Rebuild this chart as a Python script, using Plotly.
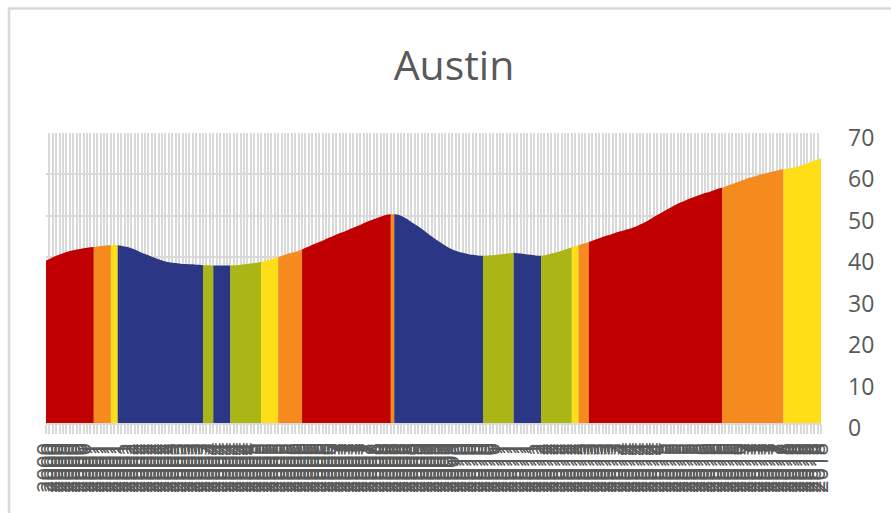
import plotly.graph_objects as go

# monthly values, Jan 2000 .. Dec 2018 (one row per year)
values = [
    39.2, 39.6, 40.0, 40.4, 40.7, 41.0, 41.3, 41.5, 41.7, 41.9, 42.0, 42.2,  # 2000
    42.3, 42.4, 42.5, 42.6, 42.7, 42.8, 42.9, 42.9, 43.0, 42.9, 42.8, 42.6,  # 2001
    42.5, 42.2, 41.9, 41.5, 41.1, 40.8, 40.5, 40.1, 39.8, 39.5, 39.2, 39.0,  # 2002
    38.8, 38.7, 38.6, 38.5, 38.4, 38.4, 38.3, 38.3, 38.2, 38.2, 38.1, 38.1,  # 2003
    38.1, 38.0, 38.0, 38.0, 38.0, 38.0, 38.0, 38.1, 38.1, 38.2, 38.3, 38.4,  # 2004
    38.5, 38.6, 38.7, 38.9, 39.1, 39.3, 39.5, 39.8, 40.0, 40.3, 40.6, 40.9,  # 2005
    41.1, 41.3, 41.6, 41.9, 42.3, 42.6, 43.0, 43.3, 43.7, 44.0, 44.4, 44.8,  # 2006
    45.1, 45.5, 45.8, 46.1, 46.4, 46.8, 47.1, 47.5, 47.8, 48.2, 48.6, 48.9,  # 2007
    49.2, 49.5, 49.8, 50.1, 50.3, 50.4, 50.4, 50.3, 50.0, 49.6, 49.1, 48.5,  # 2008
    48.0, 47.5, 46.9, 46.3, 45.6, 45.0, 44.4, 43.9, 43.3, 42.8, 42.3, 41.9,  # 2009
    41.6, 41.3, 41.1, 40.9, 40.7, 40.6, 40.5, 40.4, 40.4, 40.4, 40.5, 40.5,  # 2010
    40.6, 40.7, 40.8, 40.9, 41.0, 41.1, 41.0, 40.9, 40.8, 40.7, 40.6, 40.5,  # 2011
    40.4, 40.4, 40.5, 40.7, 40.9, 41.1, 41.3, 41.6, 41.8, 42.1, 42.4, 42.7,  # 2012
    42.9, 43.2, 43.4, 43.7, 44.0, 44.3, 44.6, 44.9, 45.2, 45.4, 45.7, 46.0,  # 2013
    46.2, 46.4, 46.7, 46.9, 47.2, 47.5, 47.9, 48.3, 48.7, 49.2, 49.7, 50.2,  # 2014
    50.6, 51.1, 51.6, 52.0, 52.5, 52.9, 53.3, 53.6, 54.0, 54.3, 54.6, 54.9,  # 2015
    55.2, 55.5, 55.7, 56.0, 56.3, 56.6, 56.8, 57.1, 57.4, 57.7, 58.0, 58.3,  # 2016
    58.6, 58.9, 59.2, 59.4, 59.6, 59.9, 60.1, 60.3, 60.5, 60.7, 60.9, 61.1,  # 2017
    61.3, 61.4, 61.5, 61.7, 61.9, 62.1, 62.4, 62.7, 63.0, 63.3, 63.6, 63.9,  # 2018
]
years = list(range(2000, 2019))
tick_labels = [str(y) for y in years for _ in range(12)]

# colour runs along the series: level and number of months in each run
run_levels = ["red", "orange", "yellow", "blue", "green", "blue", "green", "yellow",
              "orange", "red", "orange", "blue", "green", "blue", "green", "yellow",
              "orange", "red", "orange", "yellow"]
run_lengths = [14, 5, 2, 25, 3, 5, 9, 5, 7, 26, 1, 26, 9, 8, 9, 2, 3, 39, 18, 12]

COLORS = {
    "red": "#C00000",
    "orange": "#F58B1F",
    "yellow": "#FFDE17",
    "blue": "#2B3784",
    "green": "#A9B615",
}
TEXT = "#595959"
GRID = "#D9D9D9"
FONT = "Open Sans, sans-serif"

n = len(values)
idx = list(range(n))

fig = go.Figure()
start = 0
for level, length in zip(run_levels, run_lengths):
    end = min(start + length, n - 1)
    fig.add_trace(go.Scatter(
        x=idx[start:end + 1], y=values[start:end + 1], mode="none", fill="tozeroy",
        fillcolor=COLORS[level], showlegend=False, hoverinfo="skip",
    ))
    start += length

# chart border (runs past the right / bottom of the window like the source)
W, H = 891, 513
L, R, T, B = 45.5, 70.3, 133, 90
pw, ph = W - L - R, H - T - B


def px_to_paper(x, y):
    return (x - L) / pw, (H - B - y) / ph


x0, y0 = px_to_paper(8.5, 8.5)
x1, y1 = px_to_paper(905, 530)
fig.add_shape(type="rect", xref="paper", yref="paper", x0=x0, y0=y1, x1=x1, y1=y0,
              line={"color": GRID, "width": 2.5}, layer="above")

fig.update_layout(
    width=W, height=H,
    margin={"l": L, "r": R, "t": T, "b": B, "pad": 0},
    paper_bgcolor="#FFFFFF", plot_bgcolor="#FFFFFF",
    font={"family": FONT, "color": TEXT},
    title={"text": "Austin", "font": {"size": 41, "color": TEXT, "family": FONT},
           "x": 454 / W, "xref": "container", "xanchor": "center",
           "y": 1 - 66 / H, "yref": "container", "yanchor": "middle"},
    xaxis={
        "range": [0, n - 1], "automargin": False,
        "tickmode": "array", "tickvals": idx, "ticktext": tick_labels,
        "tickangle": -90, "tickfont": {"size": 22, "color": TEXT},
        "ticks": "outside", "ticklen": 9, "tickcolor": GRID, "tickwidth": 1.5,
        "ticklabelstandoff": 0,
        "showgrid": True, "gridcolor": GRID, "gridwidth": 1.7,
        "showline": True, "linecolor": GRID, "linewidth": 2,
        "zeroline": False,
    },
    yaxis={
        "side": "right", "range": [0, 70], "automargin": False, "tickmode": "array",
        "tickvals": [0, 10, 20, 30, 40, 50, 60, 70],
        "tickfont": {"size": 23, "color": TEXT},
        "showgrid": True, "gridcolor": GRID, "gridwidth": 2,
        "zeroline": False, "showline": False, "ticks": "",
        "ticklabelstandoff": 26, "ticklabelshift": 5,
    },
)

fig.write_html("out.html", config={"displayModeBar": False},
               post_script="document.body.style.margin = '0';")
